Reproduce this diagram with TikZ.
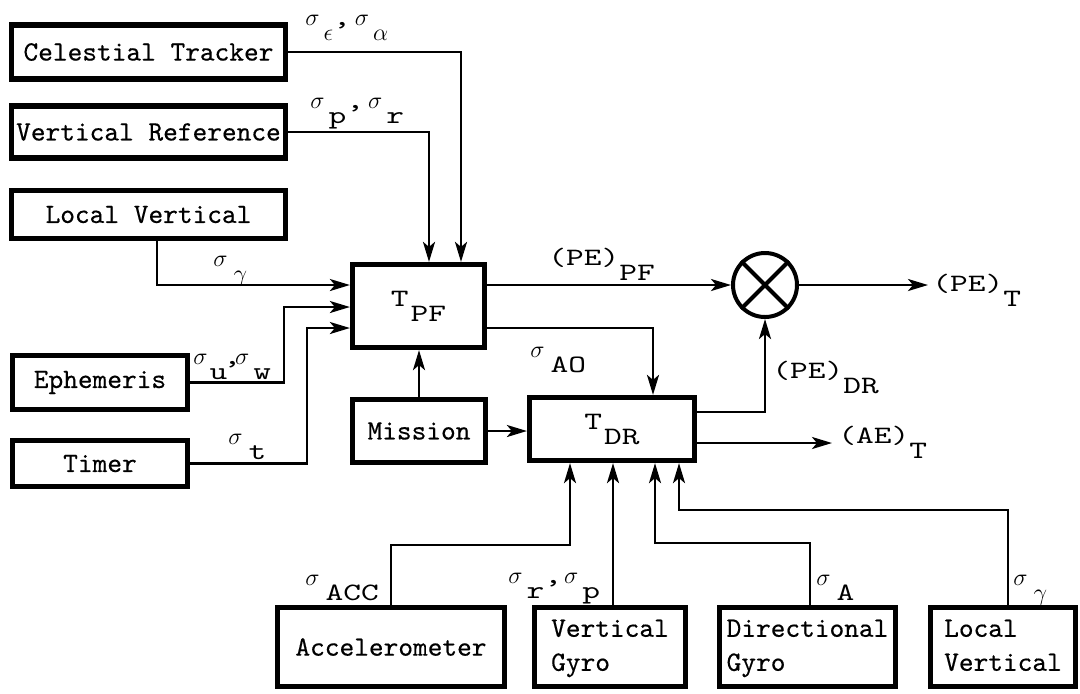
\documentclass[tikz,border=0pt]{standalone}
\usepackage{fontspec}
\newfontfamily\boxfont{lmmono10-regular}[Extension=.otf,FakeBold=0.4]
\newfontfamily\lblfont{lmmono10-regular}[Extension=.otf,FakeStretch=1.35]
\usetikzlibrary{arrows.meta,calc}
\newcommand\up[1]{\raisebox{7.5pt}{#1}}
\begin{document}
\begin{tikzpicture}[x=0.5pt,y=-0.5pt,
  blk/.style={draw, line width=2.6pt, inner sep=2pt, font=\boxfont\fontsize{14}{17}\selectfont},
  arr/.style={line width=1.3pt, -{Stealth[length=10pt,width=6pt,inset=2.5pt]}},
  lbl/.style={anchor=base west, inner sep=0pt, font=\lblfont\fontsize{12.5}{15}\selectfont},
  sym/.style={font=\lblfont\fontsize{12.5}{15}\selectfont}]
\useasboundingbox (0,0) rectangle (1080,693);
% top-left sources
\node[blk, minimum width=137pt, minimum height=27pt] (ct) at (148.5,52) {Celestial Tracker};
\node[blk, minimum width=137pt, minimum height=26pt] (vr) at (148.5,132) {Vertical Reference};
\node[blk, minimum width=137pt, minimum height=24pt] (lv1) at (148.5,214.5) {Local Vertical};
\node[blk, minimum width=87.5pt, minimum height=27pt] (eph) at (100,382.5) {Ephemeris};
\node[blk, minimum width=87.5pt, minimum height=23pt] (tim) at (100,463.5) {Timer};
% central blocks
\node[blk, sym, minimum width=66pt, minimum height=41.5pt] (tpf) at (418.5,306) {\up{T}\kern1pt PF};
\node[blk, minimum width=66.5pt, minimum height=31.5pt] (mis) at (419,431) {Mission};
\node[blk, sym, minimum width=82.5pt, minimum height=31.5pt] (tdr) at (612,429) {\up{T}\kern1pt DR};
\node[draw, circle, line width=2pt, minimum size=32pt, inner sep=0pt] (circ) at (765,285) {};
\draw[line width=2pt] (circ.north west) -- (circ.south east) (circ.north east) -- (circ.south west);
% bottom sources
\node[blk, minimum width=113.5pt, minimum height=39.5pt] (acc) at (391,647) {\raisebox{-2pt}{Accelerometer}};
\node[blk, minimum width=75.5pt, minimum height=39.5pt] (vg) at (610,647) {\raisebox{-3pt}{\begin{tabular}{@{}l@{}}Vertical\\Gyro\end{tabular}}};
\node[blk, minimum width=88pt, minimum height=39.5pt] (dg) at (807.5,647) {\raisebox{-3pt}{\begin{tabular}{@{}l@{}}Directional\\Gyro\end{tabular}}};
\node[blk, minimum width=72.5pt, minimum height=39.5pt] (lv2) at (1003,647) {\raisebox{-3pt}{\begin{tabular}{@{}l@{}}Local\\Vertical\end{tabular}}};
% helper coordinates
\coordinate (ex) at (284,0);
\coordinate (tx) at (307,0);
\coordinate (pet) at (928,285);
\coordinate (aet) at (832,443);
\coordinate (b1) at ([xshift=-21pt]tdr.south);
\coordinate (b2) at ([xshift=0.5pt]tdr.south);
\coordinate (b3) at ([xshift=21.5pt]tdr.south);
\coordinate (b4) at ([xshift=33.5pt]tdr.south);
\coordinate (h1) at (0,545);
\coordinate (h2) at (0,543);
\coordinate (h3) at (0,510);
% connectors
\draw[arr] (ct.east) -| ([xshift=21.25pt]tpf.north);
\draw[arr] (vr.east) -| ([xshift=5.25pt]tpf.north);
\draw[arr] ([xshift=4.25pt]lv1.south) |- ([yshift=10.5pt]tpf.west);
\draw[arr] (eph.east) -- (eph.east -| ex) |- ([yshift=-0.5pt]tpf.west);
\draw[arr] (tim.east) -- (tim.east -| tx) |- ([yshift=-11pt]tpf.west);
\draw[arr] ([yshift=10.5pt]tpf.east) -- (circ.west);
\draw[arr] (circ.east) -- (pet);
\draw[arr] ([yshift=-11pt]tpf.east) -| ([xshift=20.5pt]tdr.north);
\draw[arr] (mis.north) -- (mis.north |- tpf.south);
\draw[arr] (mis.east) -- (mis.east -| tdr.west);
\draw[arr] ([yshift=8.5pt]tdr.east) -| (circ.south);
\draw[arr] ([yshift=-7pt]tdr.east) -- (aet);
\draw[arr] (acc.north) |- (h1 -| b1) -- (b1);
\draw[arr] (vg.north -| b2) -- (b2);
\draw[arr] ([xshift=1.25pt]dg.north) |- (h2 -| b3) -- (b3);
\draw[arr] ([xshift=2.5pt]lv2.north) |- (h3 -| b4) -- (b4);
% labels
\node[lbl] (l1) at (305,40) {\up{$\sigma$}\kern2pt$\epsilon$\up{,}\kern2pt\up{$\sigma$}\kern2pt$\alpha$};
\node[lbl] (l2) at (310,123) {\up{$\sigma$}\kern2pt p\up{,}\kern2pt\up{$\sigma$}\kern2pt r};
\node[lbl] (l3) at (213,281) {\up{$\sigma$}\kern3pt$\gamma$};
\node[lbl] (l4) at (193,379) {\up{$\sigma$}\kern1pt u\kern-2pt\up{,}\kern-3pt\up{$\sigma$}\kern2pt w};
\node[lbl] (l5) at (228,459) {\up{$\sigma$}\kern3pt t};
\node[lbl] (l6) at (548,280) {\up{(PE)}PF};
\node[lbl] (l7) at (530,372) {\up{$\sigma$}\kern3pt AO};
\node[lbl] (l8) at (772,393) {\up{(PE)}DR};
\node[lbl] (l9) at (932,306) {\up{(PE)}T};
\node[lbl] (l10) at (838,458) {\up{(AE)}T};
\node[lbl] (l11) at (305,600) {\up{$\sigma$}\kern3pt ACC};
\node[lbl] (l12) at (508,598) {\up{$\sigma$}\kern2pt r\up{,}\kern1pt\up{$\sigma$}\kern2pt p};
\node[lbl] (l13) at (816,600) {\up{$\sigma$}\kern3pt A};
\node[lbl] (l14) at (1013,600) {\up{$\sigma$}\kern3pt$\gamma$};
\end{tikzpicture}
\end{document}
